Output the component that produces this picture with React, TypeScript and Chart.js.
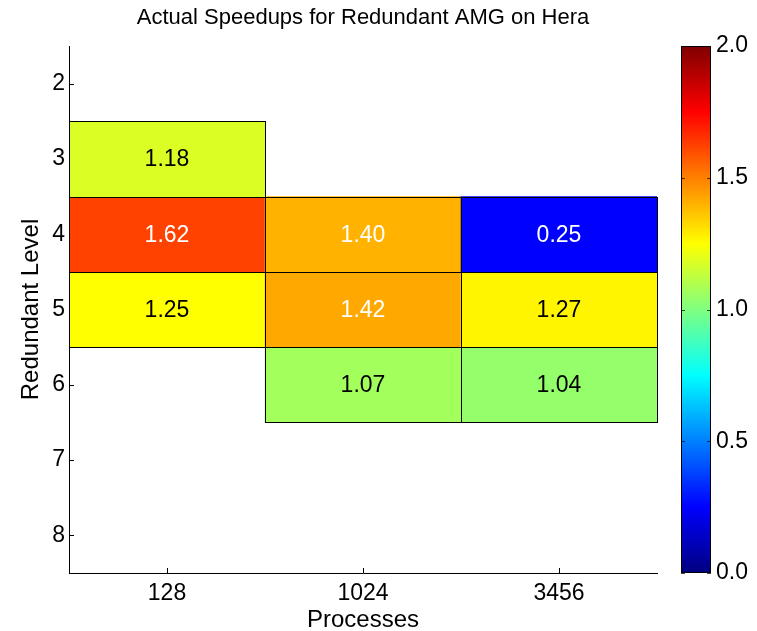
import React, { useEffect, useRef } from 'react';
import { Chart, registerables } from 'chart.js';

Chart.register(...registerables);

const TITLE = 'Actual Speedups for Redundant AMG on Hera';
const X_TITLE = 'Processes';
const Y_TITLE = 'Redundant Level';

// x categories (process counts)
const processes = ['128', '1024', '3456'];
// y tick labels (redundant levels)
const levels = [2, 3, 4, 5, 6, 7, 8];
// measured levels and their speedups per process count (null = no data)
const measuredLevels = [3, 4, 5, 6];
const speedupsLevel3 = [1.18, null, null];
const speedupsLevel4 = [1.62, 1.4, 0.25];
const speedupsLevel5 = [1.25, 1.42, 1.27];
const speedupsLevel6 = [null, 1.07, 1.04];
const speedupRows: (number | null)[][] = [speedupsLevel3, speedupsLevel4, speedupsLevel5, speedupsLevel6];
// colorbar
const colorbarTicks = [0, 0.5, 1.0, 1.5, 2.0];
const CMIN = 0;
const CMAX = 2;

const FONT = "'Liberation Sans', Arial, Helvetica, sans-serif";

function clamp01(v: number) {
  return Math.max(0, Math.min(1, v));
}
function jet(t: number) {
  const r = clamp01(1.5 - Math.abs(4 * t - 3));
  const g = clamp01(1.5 - Math.abs(4 * t - 2));
  const b = clamp01(1.5 - Math.abs(4 * t - 1));
  return `rgb(${Math.round(r * 255)},${Math.round(g * 255)},${Math.round(b * 255)})`;
}
function norm(v: number) {
  return (v - CMIN) / (CMAX - CMIN);
}

const axisTicksPlugin = {
  id: 'inwardTicks',
  beforeDatasetsDraw(chart: any) {
    const ctx = chart.ctx;
    const { left, bottom } = chart.chartArea;
    const xs = chart.scales.x;
    const ys = chart.scales.y;
    ctx.save();
    ctx.strokeStyle = '#000';
    ctx.lineWidth = 1;
    ctx.beginPath();
    levels.forEach((lv) => {
      const y = Math.round(ys.getPixelForValue(lv)) + 0.5;
      ctx.moveTo(left, y);
      ctx.lineTo(left + 5, y);
    });
    processes.forEach((_, i) => {
      const x = Math.round(xs.getPixelForValue(i)) + 0.5;
      ctx.moveTo(x, bottom);
      ctx.lineTo(x, bottom - 5);
    });
    ctx.stroke();
    ctx.restore();
  },
};

const cellPlugin = {
  id: 'cellLabels',
  afterDatasetsDraw(chart: any) {
    const ctx = chart.ctx;
    ctx.save();
    chart.data.datasets.forEach((ds: any, di: number) => {
      const meta = chart.getDatasetMeta(di);
      meta.data.forEach((el: any, i: number) => {
        const v = ds.speedups[i];
        if (v == null) return;
        const { x, y, base, width } = el.getProps(['x', 'y', 'base', 'width'], true);
        const l = Math.round(x - width / 2) + 0.5;
        const r = Math.round(x + width / 2) + 0.5;
        const t = Math.round(Math.min(y, base)) + 0.5;
        const b = Math.round(Math.max(y, base)) + 0.5;
        ctx.strokeStyle = '#000';
        ctx.lineWidth = 1;
        ctx.strokeRect(l, t, r - l, b - t);
        const tn = norm(v);
        ctx.fillStyle = tn > 0.65 || tn < 0.35 ? '#fff' : '#000';
        ctx.font = `23px ${FONT}`;
        ctx.textAlign = 'center';
        ctx.textBaseline = 'middle';
        ctx.fillText(v.toFixed(2), x, (y + base) / 2 + 1);
      });
    });
    ctx.restore();
  },
};

const colorbarPlugin = {
  id: 'colorbar',
  afterDraw(chart: any) {
    const ctx = chart.ctx;
    const cb = chart.scales.cb;
    const x0 = chart.chartArea.right + 24;
    const w = 30;
    const top = cb.getPixelForValue(CMAX);
    const bot = cb.getPixelForValue(CMIN);
    const grad = ctx.createLinearGradient(0, bot, 0, top);
    const N = 64;
    for (let i = 0; i <= N; i++) {
      grad.addColorStop(i / N, jet(i / N));
    }
    ctx.save();
    ctx.fillStyle = grad;
    ctx.fillRect(x0, top, w, bot - top);
    ctx.strokeStyle = '#000';
    ctx.lineWidth = 1;
    ctx.strokeRect(Math.round(x0) + 0.5, Math.round(top) + 0.5, w - 1, Math.round(bot - top) - 1);
    ctx.strokeStyle = 'rgba(0,0,0,0.7)';
    ctx.beginPath();
    colorbarTicks.forEach((v) => {
      const y = Math.round(cb.getPixelForValue(v)) + 0.5;
      ctx.moveTo(x0, y);
      ctx.lineTo(x0 + 4, y);
      ctx.moveTo(x0 + w, y);
      ctx.lineTo(x0 + w - 4, y);
    });
    ctx.stroke();
    ctx.restore();
  },
};

export default function App() {
  const canvasRef = useRef<HTMLCanvasElement | null>(null);

  useEffect(() => {
    document.body.style.margin = '0';
    document.body.style.overflow = 'hidden';
    const canvas = canvasRef.current;
    if (!canvas) return;

    const datasets = measuredLevels.map((lv, i) => ({
      label: `Level ${lv}`,
      data: speedupRows[i].map((v) => (v == null ? null : [lv - 0.5, lv + 0.5])),
      speedups: speedupRows[i],
      backgroundColor: speedupRows[i].map((v) => (v == null ? 'rgba(0,0,0,0)' : jet(norm(v)))),
      borderWidth: 0,
      grouped: false,
      barPercentage: 1,
      categoryPercentage: 1,
    }));

    const chart = new Chart(canvas, {
      type: 'bar',
      data: { labels: processes, datasets: datasets as any },
      plugins: [axisTicksPlugin, cellPlugin, colorbarPlugin],
      options: {
        responsive: false,
        animation: false,
        devicePixelRatio: 1,
        layout: { padding: 0 },
        plugins: {
          legend: { display: false },
          tooltip: { enabled: false },
          title: {
            display: true,
            text: TITLE,
            fullSize: false,
            color: '#000',
            font: { family: FONT, size: 22, weight: 'normal' },
            padding: { top: 5, bottom: 14.6 },
          },
        },
        scales: {
          x: {
            type: 'category',
            offset: true,
            grid: { display: false, drawTicks: false },
            border: { display: true, color: '#000', width: 1 },
            ticks: { color: '#000', font: { family: FONT, size: 23 }, padding: 7, maxRotation: 0 },
            title: {
              display: true,
              text: X_TITLE,
              color: '#000',
              font: { family: FONT, size: 24 },
              padding: { top: 0, bottom: -4 },
            },
            afterFit: (s: any) => {
              s.height = 58;
            },
          },
          y: {
            type: 'linear',
            min: levels[0] - 0.5,
            max: levels[levels.length - 1] + 0.5,
            reverse: true,
            afterBuildTicks: (s: any) => {
              s.ticks = levels.map((v) => ({ value: v }));
            },
            grid: { display: false, drawTicks: false },
            border: { display: true, color: '#000', width: 1 },
            ticks: { color: '#000', font: { family: FONT, size: 23 }, padding: 4 },
            title: {
              display: true,
              text: Y_TITLE,
              color: '#000',
              font: { family: FONT, size: 24 },
              padding: { top: 17, bottom: 0 },
            },
            afterFit: (s: any) => {
              s.width = 69;
            },
          },
          cb: {
            type: 'linear',
            position: 'right',
            min: CMIN,
            max: CMAX,
            afterBuildTicks: (s: any) => {
              s.ticks = colorbarTicks.map((v) => ({ value: v }));
            },
            grid: { display: false, drawTicks: true, tickLength: 56 },
            border: { display: false },
            ticks: {
              color: '#000',
              font: { family: FONT, size: 23 },
              padding: 3,
              callback: (v: any) => Number(v).toFixed(1),
            },
            afterFit: (s: any) => {
              s.width = 100;
            },
          },
        },
      } as any,
    });

    return () => {
      chart.destroy();
    };
  }, []);

  return (
    <div style={{ width: 757, height: 631, background: '#fff' }}>
      <canvas ref={canvasRef} width={757} height={631} style={{ display: 'block' }} />
    </div>
  );
}
